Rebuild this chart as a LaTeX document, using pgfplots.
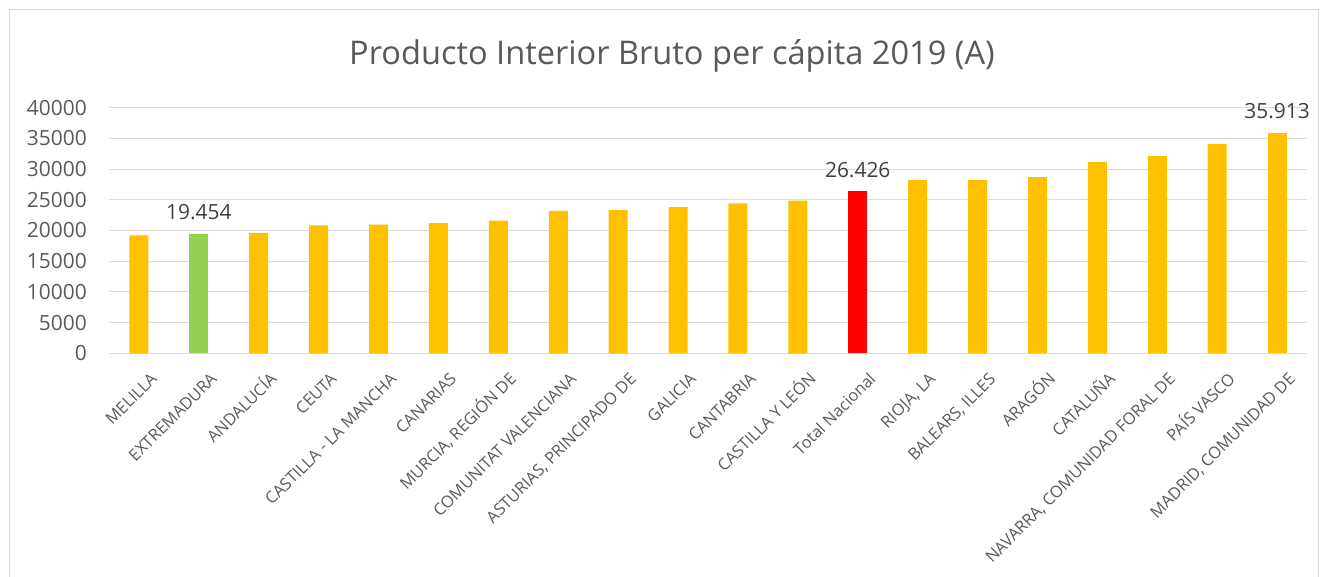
\documentclass[border=0pt]{standalone}
\usepackage{pgfplots}
\pgfplotsset{compat=1.18}
\usepackage{fontspec}
\setmainfont{Open Sans}
\definecolor{barorange}{HTML}{FFC000}
\definecolor{bargreen}{HTML}{92D050}
\definecolor{barred}{HTML}{FF0000}
\definecolor{txtgrey}{HTML}{595959}
\definecolor{lblgrey}{HTML}{404040}
\definecolor{gridgrey}{HTML}{D9D9D9}
\begin{document}
\begin{tikzpicture}
\useasboundingbox (-109bp,-223.7bp) rectangle (1215bp,353.3bp);
\draw[gridgrey, line width=1bp] (-99.5bp,-240bp) -- (-99.5bp,343.8bp) -- (1209bp,343.8bp) -- (1209bp,-240bp);
\begin{axis}[at={(0,0)}, anchor=south west, scale only axis,
  width=1198bp, height=245.6bp,
  xmin=-0.5, xmax=19.5, ymin=0, ymax=40000,
  ytick={0,5000,...,40000}, xtick={0,...,19},
  scaled y ticks=false,
  xticklabels={MELILLA, EXTREMADURA, ANDALUCÍA, CEUTA, CASTILLA - LA MANCHA, CANARIAS,
    {MURCIA, REGIÓN DE}, COMUNITAT VALENCIANA, {ASTURIAS, PRINCIPADO DE}, GALICIA,
    CANTABRIA, CASTILLA Y LEÓN, Total Nacional, {RIOJA, LA}, {BALEARS, ILLES}, ARAGÓN,
    CATALUÑA, {NAVARRA, COMUNIDAD FORAL DE}, PAÍS VASCO, {MADRID, COMUNIDAD DE}},
  axis line style={draw=none}, major tick length=0pt,
  ymajorgrids, major grid style={gridgrey, line width=1.1bp},
  /pgf/number format/1000 sep={}, /pgf/number format/assume math mode=true,
  yticklabel style={font=\fontsize{21}{25}\selectfont, text=txtgrey, anchor=east, inner sep=0pt, xshift=-22bp},
  xticklabel style={font=\fontsize{16.4}{19}\selectfont, text=txtgrey, rotate=45, anchor=north east,
    inner sep=0pt, text height=11.7bp, text depth=3bp, xshift=-5.5bp, yshift=-20.5bp},
  clip=false]
\addplot[ybar, bar width=19bp, bar shift=0pt, fill=barorange, draw=none] coordinates {
  (0,19200) (2,19600) (3,20850) (4,20950) (5,21200) (6,21600) (7,23200) (8,23300)
  (9,23800) (10,24400) (11,24850) (13,28200) (14,28200) (15,28700) (16,31150)
  (17,32100) (18,34100)};
\addplot[ybar, bar width=19bp, bar shift=0pt, fill=barorange, draw=none,
  point meta=explicit symbolic, nodes near coords,
  nodes near coords style={font=\fontsize{21}{25}\selectfont, text=lblgrey, inner sep=0pt, anchor=south, yshift=13.5bp}]
  coordinates {(19,35913) [35.913]};
\addplot[ybar, bar width=19bp, bar shift=0pt, fill=bargreen, draw=none,
  point meta=explicit symbolic, nodes near coords,
  nodes near coords style={font=\fontsize{21}{25}\selectfont, text=lblgrey, inner sep=0pt, anchor=south, yshift=13.5bp}]
  coordinates {(1,19454) [19.454]};
\addplot[ybar, bar width=19bp, bar shift=0pt, fill=barred, draw=none,
  point meta=explicit symbolic, nodes near coords,
  nodes near coords style={font=\fontsize{21}{25}\selectfont, text=lblgrey, inner sep=0pt, anchor=south, yshift=13.5bp}]
  coordinates {(12,26426) [26.426]};
\end{axis}
\node[font=\fontsize{32.7}{38}\selectfont, text=txtgrey] at (563bp,297.5bp) {Producto Interior Bruto per cápita 2019 (A)};
\end{tikzpicture}
\end{document}
